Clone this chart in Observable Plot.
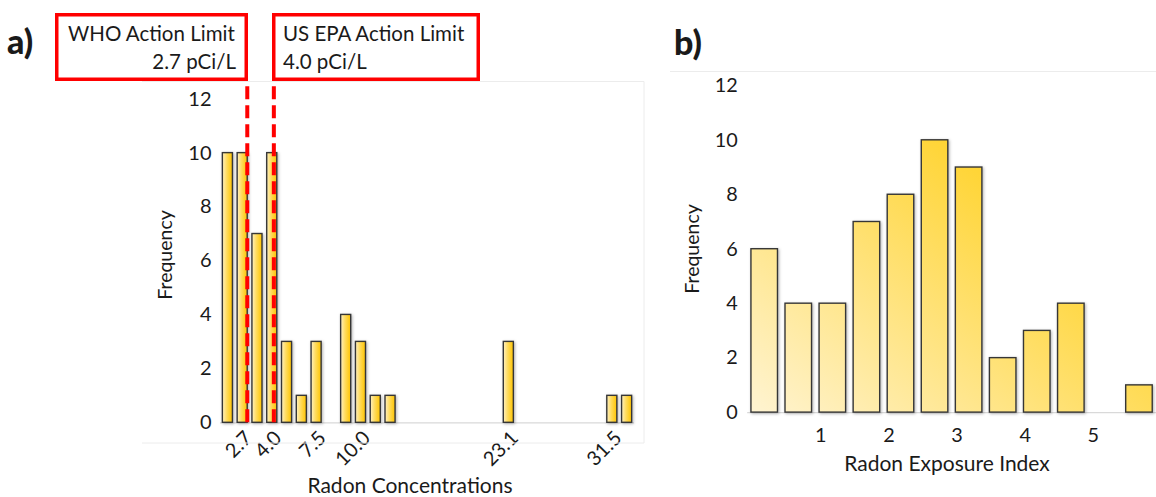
<!DOCTYPE html>
<html>
<head>
<meta charset="utf-8">
<script src="https://cdn.jsdelivr.net/npm/d3@7"></script>
<script src="https://cdn.jsdelivr.net/npm/@observablehq/plot@0.6"></script>
<style>
  html, body { margin: 0; padding: 0; background: #fff; }
  #root { position: relative; width: 1156px; height: 497px; overflow: hidden; font-family: Lato, "Open Sans", sans-serif; color: #1a1a1a; }
  .panel { position: absolute; top: 0; }
  .panel svg { overflow: visible; }
  #overlay { position: absolute; left: 0; top: 0; pointer-events: none; }
</style>
</head>
<body>
<div id="root">
  <div id="panelA" class="panel" style="left:0px"></div>
  <div id="panelB" class="panel" style="left:640px"></div>
</div>
<script>
// ---------- data ----------
// Panel a: histogram of radon concentrations (28 category slots, only some labelled)
const radonCounts = [10, 10, 7, 10, 3, 1, 3, 0, 4, 3, 1, 1, 0, 0, 0, 0, 0, 0, 0, 3, 0, 0, 0, 0, 0, 0, 1, 1];
const radonTickText = ["", "2.7", "", "4.0", "", "", "7.5", "", "", "10.0", "", "", "", "", "", "", "", "", "", "23.1", "", "", "", "", "", "", "31.5", ""];
const actionLimits = [
  {agency: "WHO Action Limit", level: "2.7 pCi/L", bin: 1},
  {agency: "US EPA Action Limit", level: "4.0 pCi/L", bin: 3}
];
const freqTicks = [0, 2, 4, 6, 8, 10, 12];

// Panel b: histogram of radon exposure index (bins of width 0.5)
const reiBinStart = [0, 0.5, 1, 1.5, 2, 2.5, 3, 3.5, 4, 4.5, 5, 5.5];
const reiBinWidth = 0.5;
const reiCounts = [6, 4, 4, 7, 8, 10, 9, 2, 3, 4, 0, 1];
const reiTicks = [1, 2, 3, 4, 5];

const textColor = "#1a1a1a";
const axisGray = "#d9d9d9";
const barStroke = "#363636";
const fontStack = "Lato, 'Open Sans', sans-serif";

// ---------- panel a ----------
const dataA = radonCounts.map((count, bin) => ({bin, count}));
const labelledBins = dataA.filter(d => radonTickText[d.bin] !== "").map(d => d.bin);

const plotA = Plot.plot({
  width: 650, height: 497,
  marginLeft: 220, marginRight: 16, marginTop: 98.7, marginBottom: 74.7,
  style: {fontFamily: fontStack, fontSize: "20px", color: textColor, background: "transparent"},
  x: {type: "band", domain: dataA.map(d => d.bin), paddingInner: 0.32, paddingOuter: 0.16, round: false},
  y: {domain: [0, 12]},
  marks: [
    Plot.ruleY([0], {stroke: axisGray, strokeWidth: 1.3}),
    Plot.barY(dataA.filter(d => d.count > 0), {x: "bin", y: "count", fill: "url(#gradA)", stroke: barStroke, strokeWidth: 1.4}),
    Plot.ruleX([actionLimits[0]], {x: "bin", y1: 0, y2: 12.5, stroke: "#ff0000", strokeWidth: 4, strokeDasharray: "13,6", dx: 4.6}),
    Plot.ruleX([actionLimits[1]], {x: "bin", y1: 0, y2: 12.5, stroke: "#ff0000", strokeWidth: 4, strokeDasharray: "13,6", dx: 1.6}),
    Plot.axisY({ticks: freqTicks, tickSize: 0, tickPadding: 9, line: true, stroke: axisGray, fill: textColor, label: null}),
    Plot.axisX({ticks: labelledBins, tickFormat: b => radonTickText[b], tickRotate: -45, tickSize: 0, tickPadding: 12, dx: 6, fill: textColor, label: null})
  ]
});
document.getElementById("panelA").append(plotA);

// ---------- panel b ----------
const dataB = reiBinStart.map((x1, i) => ({x1, x2: x1 + reiBinWidth, count: reiCounts[i]}));
const plotB = Plot.plot({
  width: 520, height: 497,
  marginLeft: 108, marginRight: 0, marginTop: 86, marginBottom: 81.7,
  style: {fontFamily: fontStack, fontSize: "20px", color: textColor, background: "transparent"},
  x: {domain: [0, 6]},
  y: {domain: [0, 12]},
  marks: [
    Plot.ruleY([0], {stroke: axisGray, strokeWidth: 1.3}),
    Plot.rectY(dataB.filter(d => d.count > 0), {x1: "x1", x2: "x2", y: "count", insetLeft: 3.8, insetRight: 3.8, fill: "url(#gradB)", stroke: barStroke, strokeWidth: 1.4}),
    Plot.axisY({ticks: freqTicks, tickSize: 0, tickPadding: 10, line: true, stroke: axisGray, fill: textColor, label: null}),
    Plot.axisX({ticks: reiTicks, tickFormat: d3.format("d"), tickSize: 0, tickPadding: 15, dx: 5, fill: textColor, label: null})
  ]
});
document.getElementById("panelB").append(plotB);

// ---------- gradients & shadows ----------
function addGradient(svg, id, attrs, stops) {
  let defs = d3.select(svg).select("defs");
  if (defs.empty()) defs = d3.select(svg).insert("defs", ":first-child");
  const g = defs.append("linearGradient").attr("id", id);
  for (const [k, v] of Object.entries(attrs)) g.attr(k, v);
  stops.forEach(([o, c]) => g.append("stop").attr("offset", o).attr("stop-color", c));
}
addGradient(plotA, "gradA", {x1: 0, y1: 0, x2: 1, y2: 0}, [[0, "#fff0c2"], [0.45, "#ffdb5c"], [1, "#ffc400"]]);
addGradient(plotB, "gradB", {gradientUnits: "userSpaceOnUse", x1: 108, y1: 430, x2: 360, y2: 120}, [[0, "#fff5d8"], [1, "#ffd01e"]]);
for (const svg of [plotA, plotB]) {
  d3.select(svg).selectAll("g[aria-label='bar'], g[aria-label='rect']").style("filter", "drop-shadow(1.5px 1.5px 1.5px rgba(0,0,0,0.3))");
}

// ---------- overlay: annotations, titles ----------
const ov = d3.select("#root").append("svg").attr("id", "overlay").attr("width", 1156).attr("height", 497)
  .style("font-family", fontStack).style("fill", textColor);
// faint chart-area borders
const border = "#ececec";
ov.append("path").attr("d", "M142,81.5H644V443H142").attr("fill", "none").attr("stroke", border);
ov.append("path").attr("d", "M670,71.5H1156").attr("fill", "none").attr("stroke", border);
// limit boxes
const boxes = [
  {x: 56.75, w: 189.5, lines: [actionLimits[0].agency, actionLimits[0].level], anchor: "end", tx: 236},
  {x: 273.75, w: 204.5, lines: [actionLimits[1].agency, actionLimits[1].level], anchor: "start", tx: 283}
];
boxes.forEach(b => {
  ov.append("rect").attr("x", b.x).attr("y", 14.75).attr("width", b.w).attr("height", 64.5)
    .attr("fill", "#fff").attr("stroke", "#ff0000").attr("stroke-width", 3.5);
  ov.append("text").attr("x", b.anchor === "end" ? 68 : b.tx).attr("y", 41).attr("font-size", 20.5).text(b.lines[0]);
  ov.append("text").attr("x", b.tx).attr("y", 69).attr("font-size", 20.5).attr("text-anchor", b.anchor).text(b.lines[1]);
});
// panel letters
ov.append("text").attr("x", 7).attr("y", 54).attr("font-size", 34).attr("font-weight", 900).text("a)");
ov.append("text").attr("x", 674).attr("y", 55).attr("font-size", 34).attr("font-weight", 900).text("b)");
// axis titles
ov.append("text").attr("x", 410).attr("y", 493).attr("font-size", 21).attr("text-anchor", "middle").text("Radon Concentrations");
ov.append("text").attr("x", 947).attr("y", 471).attr("font-size", 21).attr("text-anchor", "middle").text("Radon Exposure Index");
ov.append("text").attr("transform", "translate(172,255) rotate(-90)").attr("font-size", 19.5).attr("text-anchor", "middle").text("Frequency");
ov.append("text").attr("transform", "translate(699,249) rotate(-90)").attr("font-size", 19.5).attr("text-anchor", "middle").text("Frequency");
</script>
</body>
</html>
